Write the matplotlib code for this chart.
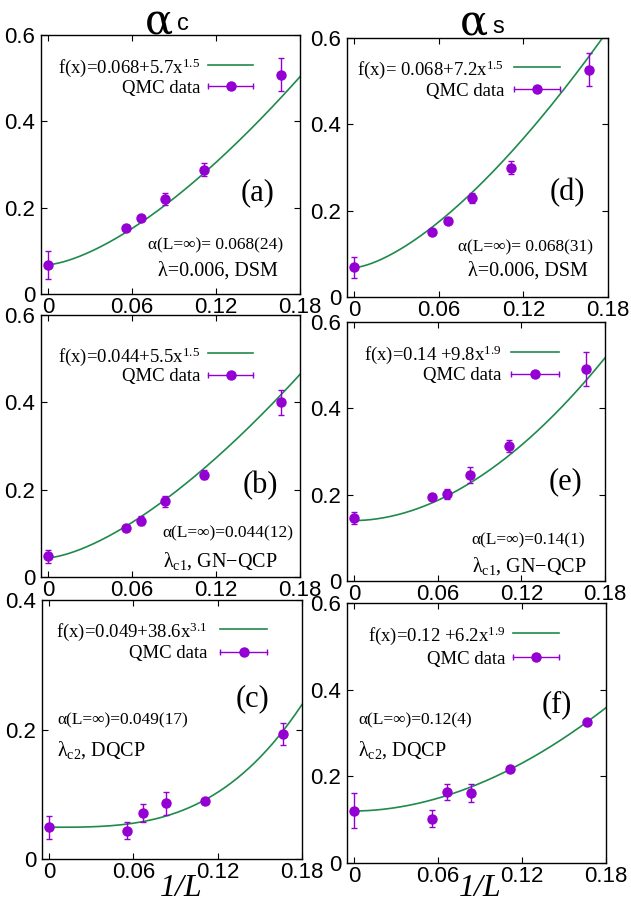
import numpy as np
import matplotlib.pyplot as plt

plt.rcParams['mathtext.fontset'] = 'custom'
plt.rcParams['mathtext.rm'] = 'Liberation Serif'
plt.rcParams['mathtext.it'] = 'Liberation Serif:italic'

SERIF = ['Liberation Serif', 'DejaVu Serif']
SANS = ['Liberation Sans', 'DejaVu Sans']
GREEN = '#1f8a4c'
PURPLE = '#9400d3'

# 1/L for L = inf, 18, 15, 12, 9, 6
inv_L = [0.0, 0.0556, 0.0667, 0.0833, 0.1111, 0.1667]

# charge channel
alpha_c_dsm = [0.067, 0.152, 0.176, 0.220, 0.288, 0.508]
err_c_dsm = [0.032, 0.005, 0.008, 0.013, 0.015, 0.038]
alpha_c_gn = [0.047, 0.112, 0.129, 0.173, 0.234, 0.400]
err_c_gn = [0.014, 0.006, 0.011, 0.013, 0.010, 0.028]
alpha_c_dq = [0.049, 0.044, 0.071, 0.086, 0.089, 0.193]
err_c_dq = [0.0175, 0.013, 0.014, 0.0175, 0.004, 0.017]

# spin channel
alpha_s_dsm = [0.069, 0.151, 0.177, 0.229, 0.300, 0.527]
err_s_dsm = [0.024, 0.005, 0.006, 0.012, 0.016, 0.038]
alpha_s_gn = [0.146, 0.194, 0.201, 0.245, 0.312, 0.491]
err_s_gn = [0.015, 0.005, 0.012, 0.018, 0.014, 0.040]
alpha_s_dq = [0.121, 0.102, 0.164, 0.161, 0.217, 0.325]
err_s_dq = [0.040, 0.020, 0.019, 0.021, 0.004, 0.004]

# fit f(x) = a + b x^p
fit_c_dsm = (0.068, 5.7, 1.5)
fit_c_gn = (0.044, 5.5, 1.5)
fit_c_dq = (0.049, 38.6, 3.1)
fit_s_dsm = (0.068, 7.2, 1.5)
fit_s_gn = (0.14, 9.8, 1.9)
fit_s_dq = (0.12, 6.2, 1.9)

fit_text = {
    'a': 'f(x)=0.068+5.7x$^{\\mathrm{1.5}}$',
    'b': 'f(x)=0.044+5.5x$^{\\mathrm{1.5}}$',
    'c': 'f(x)=0.049+38.6x$^{\\mathrm{3.1}}$',
    'd': 'f(x)= 0.068+7.2x$^{\\mathrm{1.5}}$',
    'e': 'f(x)=0.14 +9.8x$^{\\mathrm{1.9}}$',
    'f': 'f(x)=0.12 +6.2x$^{\\mathrm{1.9}}$',
}

x_ticks = [0, 0.06, 0.12, 0.18]
x_ticklabels = ['0', '0.06', '0.12', '0.18']

W, H = 631, 916
fig = plt.figure(figsize=(W / 100, H / 100), dpi=100)


def add_panel(l, r, t, b):
    return fig.add_axes([l / W, 1 - b / H, (r - l) / W, (b - t) / H])


def draw_panel(ax, y, err, fit, ymax, key, label, tag, tag_pos, note, note_pos,
               note_ha, phase, phase_pos):
    a, b, p = fit
    xs = np.linspace(0, 0.18, 300)
    ax.plot(xs, a + b * xs ** p, color=GREEN, lw=1.2, zorder=2)
    ax.errorbar(inv_L, y, yerr=err, fmt='o', color=PURPLE, ms=6.5,
                elinewidth=1.0, capsize=2.2, capthick=1.0, zorder=3)
    ax.set_xlim(-0.005, 0.18)
    ax.set_ylim(0, ymax)
    ax.set_xticks(x_ticks)
    ax.set_xticklabels(x_ticklabels)
    yt = np.arange(0, ymax + 1e-9, 0.2)
    ax.set_yticks(yt)
    ax.set_yticklabels(['0'] + ['%.1f' % v for v in yt[1:]])
    ax.tick_params(direction='in', length=4, width=0.8, top=True, right=True,
                   labelsize=16)
    ax.tick_params(axis='x', pad=2)
    ax.tick_params(axis='y', pad=4)
    for lab in ax.get_xticklabels() + ax.get_yticklabels():
        lab.set_family(SANS)
    for s in ax.spines.values():
        s.set_linewidth(1.0)

    # key: label right-aligned, sample to the right
    xt, y1, y2, x0, x1 = key
    tr = ax.transAxes
    ax.text(xt, y1, label, transform=tr, ha='right',
            va='center_baseline', fontsize=13.5, family=SERIF)
    ax.plot([x0, x1], [y1, y1], transform=tr, color=GREEN, lw=1.2, clip_on=False)
    ax.text(xt, y2, 'QMC data', transform=tr, ha='right',
            va='center_baseline', fontsize=13.5, family=SERIF)
    ax.plot([x0, x1], [y2, y2], transform=tr, color=PURPLE, lw=1.0, clip_on=False)
    ax.plot([x0, x1], [y2, y2], transform=tr, color=PURPLE, ls='none',
            marker='|', ms=5, mew=1.0, clip_on=False)
    ax.plot([(x0 + x1) / 2], [y2], transform=tr, color=PURPLE, marker='o',
            ms=6.5, clip_on=False)

    ax.text(*tag_pos, tag, transform=tr, ha='center', va='center',
            fontsize=22, family=SERIF)
    ax.text(*note_pos, note, transform=tr, ha=note_ha, va='center_baseline',
            fontsize=12.5, family=SERIF)
    ax.text(*phase_pos, phase, transform=tr, ha=note_ha, va='center_baseline',
            fontsize=14.5, family=SERIF)


ax_a = add_panel(41, 300, 35, 294)
draw_panel(ax_a, alpha_c_dsm, err_c_dsm, fit_c_dsm, 0.6,
           (0.614, 0.884, 0.803, 0.645, 0.82), fit_text['a'],
           '(a)', (0.838, 0.39), 'α(L=∞)= 0.068(24)', (0.934, 0.197), 'right',
           'λ=0.006, DSM', (0.915, 0.10))

ax_b = add_panel(41, 300, 315, 577)
draw_panel(ax_b, alpha_c_gn, err_c_gn, fit_c_gn, 0.6,
           (0.614, 0.854, 0.772, 0.645, 0.82), fit_text['b'],
           '(b)', (0.846, 0.35), 'α(L=∞)=0.044(12)', (0.973, 0.175), 'right',
           'λ$_{\\mathrm{c1}}$, GN−QCP', (0.915, 0.07))

ax_c = add_panel(42, 302, 600, 859)
draw_panel(ax_c, alpha_c_dq, err_c_dq, fit_c_dq, 0.4,
           (0.638, 0.888, 0.80, 0.685, 0.865), fit_text['c'],
           '(c)', (0.81, 0.62), 'α(L=∞)=0.049(17)', (0.058, 0.544), 'left',
           'λ$_{\\mathrm{c2}}$, DQCP', (0.058, 0.432))

ax_d = add_panel(347, 608, 38, 297)
draw_panel(ax_d, alpha_s_dsm, err_s_dsm, fit_s_dsm, 0.6,
           (0.602, 0.888, 0.803, 0.640, 0.816), fit_text['d'],
           '(d)', (0.843, 0.405), 'α(L=∞)= 0.068(31)', (0.943, 0.20), 'right',
           'λ=0.006, DSM', (0.923, 0.108))

ax_e = add_panel(347, 605, 322, 581)
draw_panel(ax_e, alpha_s_gn, err_s_gn, fit_s_gn, 0.6,
           (0.598, 0.884, 0.80, 0.637, 0.82), fit_text['e'],
           '(e)', (0.845, 0.382), 'α(L=∞)=0.14(1)', (0.922, 0.166), 'right',
           'λ$_{\\mathrm{c1}}$, GN−QCP', (0.93, 0.07))

ax_f = add_panel(347, 606, 603, 863)
draw_panel(ax_f, alpha_s_dq, err_s_dq, fit_s_dq, 0.6,
           (0.613, 0.885, 0.792, 0.64, 0.817), fit_text['f'],
           '(f)', (0.81, 0.608), 'α(L=∞)=0.12(4)', (0.044, 0.558), 'left',
           'λ$_{\\mathrm{c2}}$, DQCP', (0.044, 0.446))

# column titles
fig.text(159 / W, 1 - 0.5 / H, '$\\mathrm{\\alpha}$', ha='center', va='top',
         fontsize=30, math_fontfamily='dejavuserif')
fig.text(177 / W, 1 - 30 / H, 'c', ha='left', va='baseline', fontsize=17,
         family=SANS)
fig.text(474 / W, 1 - 2 / H, '$\\mathrm{\\alpha}$', ha='center', va='top',
         fontsize=30, math_fontfamily='dejavuserif')
fig.text(492 / W, 1 - 33 / H, 's', ha='left', va='baseline', fontsize=17,
         family=SANS)

# shared x label
for xc in (181, 480):
    fig.text(xc / W, 1 - 888 / H, '1/L', ha='center', va='center', fontsize=23,
             family=SERIF, style='italic')

fig.savefig('out.png', dpi=100)
